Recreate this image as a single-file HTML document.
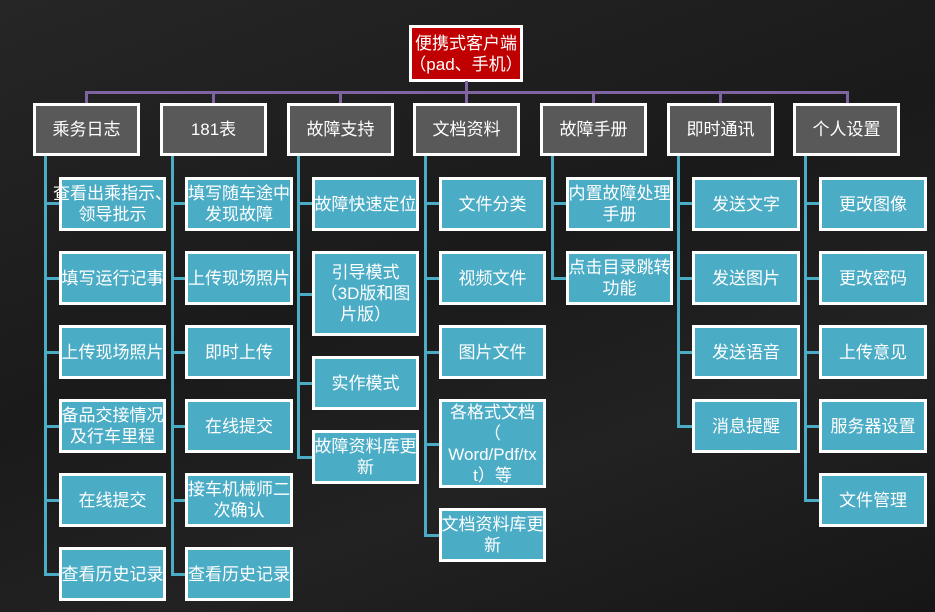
<!DOCTYPE html>
<html><head><meta charset="utf-8"><style>
body{margin:0;width:935px;height:612px;overflow:hidden;background:linear-gradient(160deg,#262626 0%,#1a1a1a 45%,#222 70%,#161616 100%);font-family:"Liberation Sans","Noto Sans CJK SC",sans-serif;position:relative}
.b{position:absolute;box-sizing:border-box;border:3px solid #fff;color:#fff;display:flex;align-items:center;justify-content:center;text-align:center;font-size:17px;line-height:21px;overflow:visible;white-space:nowrap}
.h{background:#595959;font-size:17px}
.c{background:#4bacc6}
.l{position:absolute;background:#4bacc6}
.p{position:absolute;background:#8064a2}
</style></head><body>
<div class="b" style="left:409px;top:25px;width:114px;height:57px;background:#c00000;font-size:17px">便携式客户端<br>（pad、手机）</div>
<div class="p" style="left:85px;top:91px;width:764px;height:3px"></div>
<div class="p" style="left:465px;top:81px;width:3px;height:12px"></div>
<div class="p" style="left:85px;top:91px;width:3px;height:13px"></div>
<div class="p" style="left:212px;top:91px;width:3px;height:13px"></div>
<div class="p" style="left:339px;top:91px;width:3px;height:13px"></div>
<div class="p" style="left:465px;top:91px;width:3px;height:13px"></div>
<div class="p" style="left:592px;top:91px;width:3px;height:13px"></div>
<div class="p" style="left:719px;top:91px;width:3px;height:13px"></div>
<div class="p" style="left:846px;top:91px;width:3px;height:13px"></div>

<div class="b h" style="left:33px;top:103px;width:107px;height:53px">乘务日志</div>
<div class="b h" style="left:160px;top:103px;width:107px;height:53px">181表</div>
<div class="b h" style="left:287px;top:103px;width:107px;height:53px">故障支持</div>
<div class="b h" style="left:413px;top:103px;width:107px;height:53px">文档资料</div>
<div class="b h" style="left:540px;top:103px;width:107px;height:53px">故障手册</div>
<div class="b h" style="left:667px;top:103px;width:107px;height:53px">即时通讯</div>
<div class="b h" style="left:793px;top:103px;width:107px;height:53px">个人设置</div>

<!-- col1 -->
<div class="l" style="left:44px;top:156px;width:3px;height:420px"></div>
<div class="l" style="left:44px;top:202px;width:16px;height:3px"></div>
<div class="l" style="left:44px;top:277px;width:16px;height:3px"></div>
<div class="l" style="left:44px;top:351px;width:16px;height:3px"></div>
<div class="l" style="left:44px;top:425px;width:16px;height:3px"></div>
<div class="l" style="left:44px;top:499px;width:16px;height:3px"></div>
<div class="l" style="left:44px;top:573px;width:16px;height:3px"></div>
<div class="b c" style="left:59px;top:177px;width:107px;height:54px">查看出乘指示、<br>领导批示</div>
<div class="b c" style="left:59px;top:251px;width:107px;height:54px">填写运行记事</div>
<div class="b c" style="left:59px;top:325px;width:107px;height:54px">上传现场照片</div>
<div class="b c" style="left:59px;top:399px;width:107px;height:54px">备品交接情况<br>及行车里程</div>
<div class="b c" style="left:59px;top:473px;width:107px;height:54px">在线提交</div>
<div class="b c" style="left:59px;top:547px;width:107px;height:54px">查看历史记录</div>

<!-- col2 -->
<div class="l" style="left:171px;top:156px;width:3px;height:420px"></div>
<div class="l" style="left:171px;top:202px;width:16px;height:3px"></div>
<div class="l" style="left:171px;top:277px;width:16px;height:3px"></div>
<div class="l" style="left:171px;top:351px;width:16px;height:3px"></div>
<div class="l" style="left:171px;top:425px;width:16px;height:3px"></div>
<div class="l" style="left:171px;top:499px;width:16px;height:3px"></div>
<div class="l" style="left:171px;top:573px;width:16px;height:3px"></div>
<div class="b c" style="left:185px;top:177px;width:108px;height:54px">填写随车途中<br>发现故障</div>
<div class="b c" style="left:185px;top:251px;width:108px;height:54px">上传现场照片</div>
<div class="b c" style="left:185px;top:325px;width:108px;height:54px">即时上传</div>
<div class="b c" style="left:185px;top:399px;width:108px;height:54px">在线提交</div>
<div class="b c" style="left:185px;top:473px;width:108px;height:54px">接车机械师二<br>次确认</div>
<div class="b c" style="left:185px;top:547px;width:108px;height:54px">查看历史记录</div>

<!-- col3 -->
<div class="l" style="left:297px;top:156px;width:3px;height:303px"></div>
<div class="l" style="left:297px;top:202px;width:16px;height:3px"></div>
<div class="l" style="left:297px;top:293px;width:16px;height:3px"></div>
<div class="l" style="left:297px;top:382px;width:16px;height:3px"></div>
<div class="l" style="left:297px;top:456px;width:16px;height:3px"></div>
<div class="b c" style="left:312px;top:177px;width:107px;height:54px">故障快速定位</div>
<div class="b c" style="left:312px;top:251px;width:107px;height:85px">引导模式<br>（3D版和图<br>片版）</div>
<div class="b c" style="left:312px;top:356px;width:107px;height:54px">实作模式</div>
<div class="b c" style="left:312px;top:430px;width:107px;height:54px">故障资料库更<br>新</div>

<!-- col4 -->
<div class="l" style="left:424px;top:156px;width:3px;height:381px"></div>
<div class="l" style="left:424px;top:202px;width:16px;height:3px"></div>
<div class="l" style="left:424px;top:277px;width:16px;height:3px"></div>
<div class="l" style="left:424px;top:351px;width:16px;height:3px"></div>
<div class="l" style="left:424px;top:443px;width:16px;height:3px"></div>
<div class="l" style="left:424px;top:534px;width:16px;height:3px"></div>
<div class="b c" style="left:439px;top:177px;width:107px;height:54px">文件分类</div>
<div class="b c" style="left:439px;top:251px;width:107px;height:54px">视频文件</div>
<div class="b c" style="left:439px;top:325px;width:107px;height:54px">图片文件</div>
<div class="b c" style="left:439px;top:399px;width:107px;height:89px">各格式文档<br>（<br>Word/Pdf/tx<br>t）等</div>
<div class="b c" style="left:439px;top:508px;width:107px;height:54px">文档资料库更<br>新</div>

<!-- col5 -->
<div class="l" style="left:551px;top:156px;width:3px;height:124px"></div>
<div class="l" style="left:551px;top:202px;width:16px;height:3px"></div>
<div class="l" style="left:551px;top:277px;width:16px;height:3px"></div>
<div class="b c" style="left:566px;top:177px;width:107px;height:54px">内置故障处理<br>手册</div>
<div class="b c" style="left:566px;top:251px;width:107px;height:54px">点击目录跳转<br>功能</div>

<!-- col6 -->
<div class="l" style="left:677px;top:156px;width:3px;height:272px"></div>
<div class="l" style="left:677px;top:202px;width:16px;height:3px"></div>
<div class="l" style="left:677px;top:277px;width:16px;height:3px"></div>
<div class="l" style="left:677px;top:351px;width:16px;height:3px"></div>
<div class="l" style="left:677px;top:425px;width:16px;height:3px"></div>
<div class="b c" style="left:692px;top:177px;width:108px;height:54px">发送文字</div>
<div class="b c" style="left:692px;top:251px;width:108px;height:54px">发送图片</div>
<div class="b c" style="left:692px;top:325px;width:108px;height:54px">发送语音</div>
<div class="b c" style="left:692px;top:399px;width:108px;height:54px">消息提醒</div>

<!-- col7 -->
<div class="l" style="left:804px;top:156px;width:3px;height:346px"></div>
<div class="l" style="left:804px;top:202px;width:16px;height:3px"></div>
<div class="l" style="left:804px;top:277px;width:16px;height:3px"></div>
<div class="l" style="left:804px;top:351px;width:16px;height:3px"></div>
<div class="l" style="left:804px;top:425px;width:16px;height:3px"></div>
<div class="l" style="left:804px;top:499px;width:16px;height:3px"></div>
<div class="b c" style="left:819px;top:177px;width:108px;height:54px">更改图像</div>
<div class="b c" style="left:819px;top:251px;width:108px;height:54px">更改密码</div>
<div class="b c" style="left:819px;top:325px;width:108px;height:54px">上传意见</div>
<div class="b c" style="left:819px;top:399px;width:108px;height:54px">服务器设置</div>
<div class="b c" style="left:819px;top:473px;width:108px;height:54px">文件管理</div>
</body></html>
